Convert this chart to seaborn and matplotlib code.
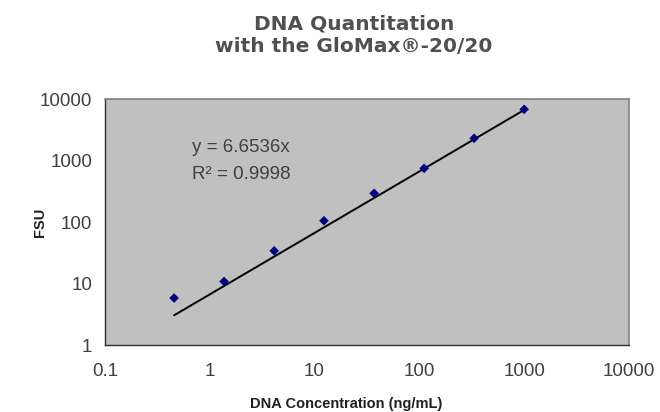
import matplotlib
matplotlib.use("Agg")
import matplotlib.pyplot as plt
import matplotlib.ticker as mticker
import seaborn as sns
import numpy as np
import pandas as pd

# DNA standards (3-fold dilutions) and measured fluorescence
dna_conc = [0.457, 1.37, 4.12, 12.3, 37.0, 111, 333, 1000]
fsu = [5.8, 10.8, 34, 105, 293, 747, 2300, 6800]
slope = 6.6536
r_squared = 0.9998
x_ticks = [0.1, 1, 10, 100, 1000, 10000]
y_ticks = [1, 10, 100, 1000, 10000]

df = pd.DataFrame({"conc": dna_conc, "fsu": fsu})
fit = pd.DataFrame({"conc": [min(dna_conc), max(dna_conc)]})
fit["fsu"] = slope * fit["conc"]

sns.set_theme(style="white")
plt.rcParams["font.family"] = ["Liberation Sans", "DejaVu Sans"]

fig = plt.figure(figsize=(6.6, 4.12), dpi=100)
ax = fig.add_axes([0.159, 0.1626, 0.794, 0.597])
ax.set_facecolor("#c0c0c0")

sns.lineplot(data=fit, x="conc", y="fsu", ax=ax, color="black", linewidth=1.4)
sns.scatterplot(data=df, x="conc", y="fsu", ax=ax, marker="D", s=24,
                color="#00007f", edgecolor="none", zorder=3)

ax.set_xscale("log")
ax.set_yscale("log")
ax.set_xlim(x_ticks[0], x_ticks[-1])
ax.set_ylim(y_ticks[0], y_ticks[-1])
ax.xaxis.set_major_locator(mticker.FixedLocator(x_ticks))
ax.yaxis.set_major_locator(mticker.FixedLocator(y_ticks))
ax.xaxis.set_minor_locator(mticker.NullLocator())
ax.yaxis.set_minor_locator(mticker.NullLocator())
fmt = mticker.FuncFormatter(lambda v, p: f"{v:g}")
ax.xaxis.set_major_formatter(fmt)
ax.yaxis.set_major_formatter(fmt)

ax.tick_params(axis="both", direction="out", length=4, width=1, color="#303030",
               labelsize=13.5, labelcolor="#404040")
ax.tick_params(axis="x", pad=9)
ax.tick_params(axis="y", pad=5)

for side in ["left", "bottom"]:
    ax.spines[side].set_color("#303030")
    ax.spines[side].set_linewidth(1.0)
for side in ["top", "right"]:
    ax.spines[side].set_color("#808080")
    ax.spines[side].set_linewidth(1.2)

ax.set_xlabel("DNA Concentration (ng/mL)", fontsize=10.5, fontweight="bold", color="#202020")
ax.set_ylabel("FSU", fontsize=10.5, fontweight="bold", color="#202020")
ax.xaxis.set_label_coords(0.46, -0.24)
ax.yaxis.set_label_coords(-0.124, 0.5)
ax.xaxis.label.set_va("center")
ax.yaxis.label.set_va("center")

# trendline equation, two lines
ax.text(0.166, 0.805, f"y = {slope}x", transform=ax.transAxes,
        fontsize=13.5, color="#404040", va="center", ha="left")
ax.text(0.166, 0.695, f"R² = {r_squared}", transform=ax.transAxes,
        fontsize=13.5, color="#404040", va="center", ha="left")

fig.text(0.536, 0.914, "DNA Quantitation\nwith the GloMax®-20/20", ha="center", va="center",
         fontsize=14.5, fontweight="bold", color="#505050", linespacing=1.2,
         family=["DejaVu Sans"])

fig.savefig("out.png", dpi=100)
